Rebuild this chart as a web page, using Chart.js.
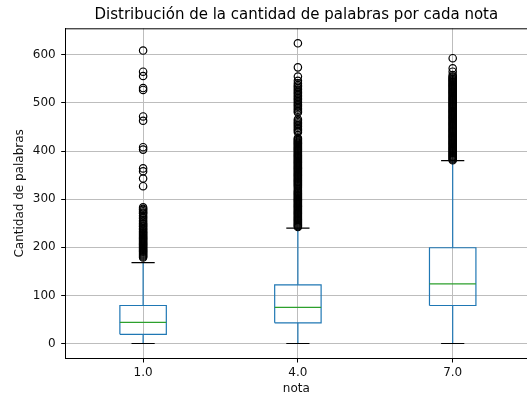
<!DOCTYPE html>
<html>
<head>
<meta charset="utf-8">
<script src="https://cdn.jsdelivr.net/npm/chart.js@4/dist/chart.umd.min.js"></script>
<style>
html, body { margin: 0; padding: 0; background: #fff; }
</style>
</head>
<body>
<canvas id="chart" width="527" height="398"></canvas>
<script>
// boxplot summary per nota
const categories = ['1.0', '4.0', '7.0'];
const yTicks = [0, 100, 200, 300, 400, 500, 600];
const whiskerLow = [0, 0, 0];
const q1 = [19, 43, 79];
const medians = [44, 75, 124];
const q3 = [79, 122, 199];
const whiskerHigh = [168, 240, 380];

const outliers1 = [609, 565, 556, 531, 527, 472, 463, 408, 403, 364, 358, 343, 327,
    283, 280, 278, 275, 272, 270, 266, 263, 260, 256, 253, 250, 248, 245, 243, 240,
    238, 236, 233, 231, 229, 227, 225, 223, 221, 219, 217, 215, 213, 211, 209, 207,
    205, 203, 201, 199, 197, 195, 193, 191, 189, 187, 185, 183, 181, 179];
const outliers2 = [624, 574, 555, 546, 541, 537, 534, 531, 528, 525, 522, 519, 516,
    513, 510, 507, 504, 501, 498, 495, 492, 489, 486, 483, 480, 466, 463, 460, 457,
    454, 451, 448, 445, 442, 439, 427, 425, 423, 421, 419, 417, 415, 413, 411, 409,
    407, 405, 403, 401, 399, 397, 395, 393, 391, 389, 387, 385, 383, 381, 379, 377,
    375, 373, 371, 369, 367, 365, 363, 361, 359, 357, 355, 353, 351, 349, 347, 345,
    343, 341, 339, 337, 335, 333, 331, 329, 327, 324, 321, 318, 316, 314, 312, 310,
    308, 306, 304, 302, 300, 298, 296, 294, 292, 290, 288, 286, 284, 282, 280, 278,
    276, 274, 272, 270, 268, 266, 264, 262, 260, 258, 256, 254, 252, 250, 248, 246,
    244, 242];
const outliers3 = [593, 572, 565, 558, 555, 553, 551, 549, 547, 545, 543, 541, 539,
    537, 535, 533, 531, 529, 527, 525, 523, 521, 519, 517, 515, 513, 511, 509, 507,
    505, 503, 501, 499, 497, 495, 493, 491, 489, 487, 485, 483, 481, 479, 477, 475,
    473, 471, 469, 467, 465, 463, 461, 459, 457, 455, 453, 451, 449, 447, 445, 443,
    441, 439, 437, 435, 433, 431, 429, 427, 425, 423, 421, 419, 417, 415, 413, 411,
    409, 407, 405, 403, 401, 399, 397, 395, 393, 391, 389, 387, 385, 383, 381];
const outliers = [outliers1, outliers2, outliers3];

const positions = categories.map((c, i) => i + 1);
const halfBox = 0.15;
const halfCap = 0.075;
const FONT = 'DejaVu Sans';

// join the pieces of every group into one line, broken by null points
function pieces(fn) {
    const pts = [];
    positions.forEach((x, i) => {
        fn(x, i).forEach(seg => {
            seg.forEach(p => pts.push({x: p[0], y: p[1]}));
            pts.push({x: x, y: null});
        });
    });
    return pts;
}

const boxPts = pieces((x, i) => [[
    [x - halfBox, q1[i]], [x + halfBox, q1[i]], [x + halfBox, q3[i]],
    [x - halfBox, q3[i]], [x - halfBox, q1[i]]
]]);
const medianPts = pieces((x, i) => [[[x - halfBox, medians[i]], [x + halfBox, medians[i]]]]);
const whiskerPts = pieces((x, i) => [
    [[x, q1[i]], [x, whiskerLow[i]]],
    [[x, q3[i]], [x, whiskerHigh[i]]]
]);
const capPts = pieces((x, i) => [
    [[x - halfCap, whiskerLow[i]], [x + halfCap, whiskerLow[i]]],
    [[x - halfCap, whiskerHigh[i]], [x + halfCap, whiskerHigh[i]]]
]);
const flierPts = [];
outliers.forEach((list, i) => list.forEach(v => flierPts.push({x: positions[i], y: v})));

function lineSet(data, color, width) {
    return {
        data: data,
        borderColor: color,
        borderWidth: width,
        pointRadius: 0,
        spanGaps: false,
        fill: false,
    };
}

// top spine of the axes box
const frame = {
    id: 'frame',
    afterDraw(chart) {
        const a = chart.chartArea;
        const ctx = chart.ctx;
        ctx.save();
        ctx.strokeStyle = '#000';
        ctx.lineWidth = 1;
        ctx.beginPath();
        ctx.moveTo(a.left, a.top + 0.5);
        ctx.lineTo(a.right, a.top + 0.5);
        ctx.stroke();
        ctx.restore();
    }
};

Chart.defaults.font.family = FONT;
Chart.defaults.color = '#111';

new Chart(document.getElementById('chart'), {
    type: 'line',
    data: {
        datasets: [
            {
                data: flierPts,
                showLine: false,
                pointRadius: 3.7,
                pointBorderWidth: 1.2,
                pointBorderColor: '#000',
                pointBackgroundColor: 'rgba(0,0,0,0)',
            },
            lineSet(capPts, '#000', 1.2),
            lineSet(medianPts, '#2ca02c', 1.2),
            lineSet(boxPts, '#1f77b4', 1.2),
            lineSet(whiskerPts, '#1f77b4', 1.2),
        ]
    },
    options: {
        responsive: false,
        animation: false,
        layout: { padding: 0, autoPadding: false },
        plugins: {
            legend: { display: false },
            tooltip: { enabled: false },
            title: {
                display: true,
                fullSize: false,
                text: 'Distribución de la cantidad de palabras por cada nota',
                color: '#000',
                font: { family: FONT, size: 15, weight: 'normal' },
                padding: { top: 6.5, bottom: 3.8 },
            },
        },
        scales: {
            x: {
                type: 'linear',
                min: 0.5,
                max: 3.48,
                afterBuildTicks: axis => { axis.ticks = positions.map(v => ({value: v})); },
                afterFit: s => { s.height = 39.5; },
                ticks: {
                    callback: (v, i) => categories[i],
                    font: { size: 12 },
                    color: '#111',
                    padding: 3.5,
                    maxRotation: 0,
                    autoSkip: false,
                },
                grid: { color: '#bdbdbd', lineWidth: 1, tickLength: 4, tickColor: '#000' },
                border: { color: '#000', width: 1 },
                title: {
                    display: true,
                    text: 'nota',
                    font: { size: 12 },
                    color: '#111',
                    padding: { top: 0, bottom: 2 },
                },
            },
            y: {
                type: 'linear',
                min: -31.2,
                max: 655.2,
                afterBuildTicks: axis => { axis.ticks = yTicks.map(v => ({value: v})); },
                afterFit: s => { s.width = 65.7; },
                ticks: { font: { size: 12 }, color: '#111', padding: 5.5 },
                grid: { color: '#bdbdbd', lineWidth: 1, tickLength: 4.5, tickColor: '#000' },
                border: { color: '#000', width: 1 },
                title: {
                    display: true,
                    text: 'Cantidad de palabras',
                    font: { size: 12 },
                    color: '#111',
                    padding: { top: 12.8, bottom: 0 },
                },
            },
        },
    },
    plugins: [frame],
});
</script>
</body>
</html>
